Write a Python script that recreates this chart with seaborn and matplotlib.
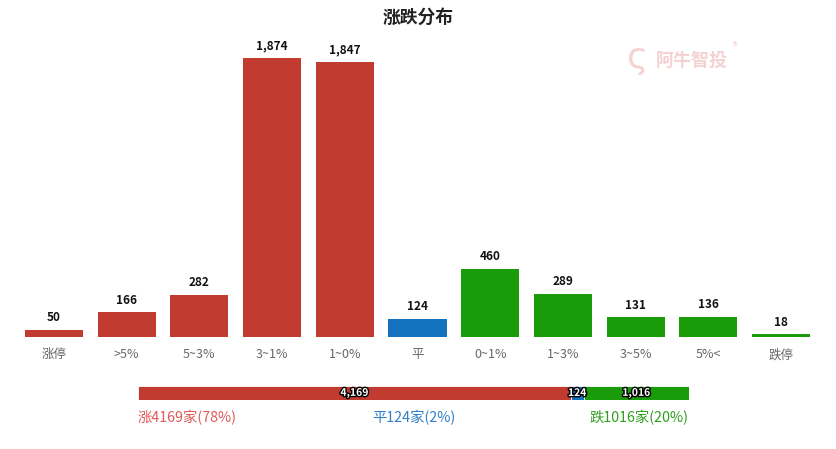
import matplotlib
matplotlib.use("Agg")
import matplotlib.pyplot as plt
import matplotlib.patheffects as pe
import seaborn as sns
import pandas as pd

categories = ["涨停", ">5%", "5~3%", "3~1%", "1~0%", "平", "0~1%", "1~3%", "3~5%", "5%<", "跌停"]
counts = [50, 166, 282, 1874, 1847, 124, 460, 289, 131, 136, 18]
groups = ["up", "up", "up", "up", "up", "flat", "down", "down", "down", "down", "down"]

summary_names = ["涨", "平", "跌"]
summary_counts = [4169, 124, 1016]
summary_pcts = [78, 2, 20]

RED = "#c23b31"
BLUE = "#1572bf"
GREEN = "#1a9b0a"
group_colors = {"up": RED, "flat": BLUE, "down": GREEN}
text_colors = ["#e05a5a", "#2f7fc8", "#2e9e1e"]

sns.set_theme(style="white")
plt.rcParams["font.family"] = ["Noto Sans CJK SC", "DejaVu Sans"]

fig = plt.figure(figsize=(8.36, 4.49), dpi=100)

df = pd.DataFrame({"cat": categories, "n": counts, "g": groups})
palette = [group_colors[g] for g in groups]

ax = fig.add_axes([17.6 / 836, (449 - 337) / 449, 799.8 / 836, (337 - 58) / 449])
sns.barplot(data=df, x="cat", y="n", hue="cat", palette=palette, legend=False,
            width=0.8, saturation=1, linewidth=0, ax=ax)
ax.set_ylim(0, 1874)
ax.set_xlim(-0.5, len(categories) - 0.5)
for s in ax.spines.values():
    s.set_visible(False)
ax.set_yticks([])
ax.set_xlabel("")
ax.set_ylabel("")
ax.tick_params(axis="x", length=0, pad=8, labelsize=9, labelcolor="#666666")
for i, v in enumerate(counts):
    ax.annotate(f"{v:,}", (i, v), xytext=(0, 4), textcoords="offset points",
                ha="center", va="bottom", fontsize=8.5, fontweight="bold",
                color="#111111", annotation_clip=False)

fig.text(418 / 836, 1 - 18 / 449, "涨跌分布", ha="center", va="center",
         fontsize=12.8, fontweight="bold", color="#222222")

# watermark
fig.text(692 / 836, 1 - 60 / 449, "阿牛智投", ha="center", va="center",
         fontsize=13, fontweight="bold", color="#f5d2d2")
fig.text(735 / 836, 1 - 47 / 449, "®", ha="center", va="center",
         fontsize=7, color="#f5d2d2")
fig.text(638 / 836, 1 - 58 / 449, "ς", ha="center", va="center",
         fontsize=26, color="#f5d2d2", family="DejaVu Sans")

# summary stacked bar
total = sum(summary_counts)
ax2 = fig.add_axes([138 / 836, (449 - 400) / 449, 551 / 836, 14 / 449])
left = 0
sum_colors = [RED, BLUE, GREEN]
for n, c in zip(summary_counts, sum_colors):
    ax2.barh([0], [n], left=[left], height=1.0, color=c, edgecolor="white", linewidth=0.6)
    t = ax2.text(left + n / 2, 0, f"{n:,}", ha="center", va="center", fontsize=7.5,
                 fontweight="bold", color="white")
    t.set_path_effects([pe.withStroke(linewidth=2, foreground="black")])
    left += n
ax2.set_xlim(0, total)
ax2.set_ylim(-0.5, 0.5)
ax2.axis("off")

y_lab = 1 - 418 / 449
fig.text(138 / 836, y_lab, f"{summary_names[0]}{summary_counts[0]}家({summary_pcts[0]}%)",
         ha="left", va="center", fontsize=10.3, color=text_colors[0])
fig.text(413.5 / 836, y_lab, f"{summary_names[1]}{summary_counts[1]}家({summary_pcts[1]}%)",
         ha="center", va="center", fontsize=10.3, color=text_colors[1])
fig.text(689 / 836, y_lab, f"{summary_names[2]}{summary_counts[2]}家({summary_pcts[2]}%)",
         ha="right", va="center", fontsize=10.3, color=text_colors[2])

fig.savefig("out.png", dpi=100)
